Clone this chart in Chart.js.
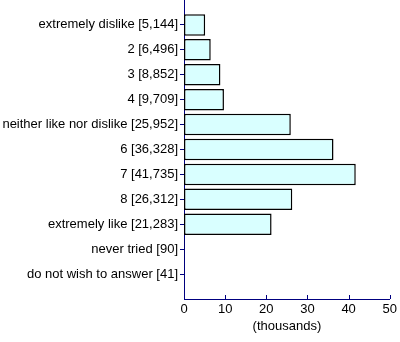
<!DOCTYPE html>
<html>
<head>
<meta charset="utf-8">
<script src="https://cdn.jsdelivr.net/npm/chart.js@4"></script>
<style>
  html, body { margin: 0; padding: 0; background: #fff; }
  #wrap { width: 400px; height: 342px; }
</style>
</head>
<body>
<div id="wrap"><canvas id="barchart"></canvas></div>
<script>
const categories = ['extremely dislike', '2', '3', '4', 'neither like nor dislike', '6', '7', '8', 'extremely like', 'never tried', 'do not wish to answer'];
const counts = [5144, 6496, 8852, 9709, 25952, 36328, 41735, 26312, 21283, 90, 41];
const xTicks = [0, 10, 20, 30, 40, 50];

const axisBlue = '#000080';

// blank slot above and below so the axis runs past the first and last bar
const labels = [''].concat(categories.map(function(c, i) {
    return c + ' [' + counts[i].toLocaleString('en-US') + ']';
}), ['']);
const values = [null].concat(counts.map(function(v) { return v / 1000; }), [null]);

const innerTicks = {
    id: 'innerTicks',
    afterDraw: function(chart) {
        const ctx = chart.ctx;
        const xs = chart.scales.x;
        const bottom = chart.chartArea.bottom;
        ctx.save();
        ctx.strokeStyle = axisBlue;
        ctx.lineWidth = 1;
        xTicks.forEach(function(t) {
            const px = Math.round(xs.getPixelForValue(t)) + 0.5;
            ctx.beginPath();
            ctx.moveTo(px, bottom);
            ctx.lineTo(px, bottom - 4);
            ctx.stroke();
        });
        ctx.restore();
    }
};

document.addEventListener("DOMContentLoaded", function() {
    const ctx = document.getElementById('barchart');
    Chart.defaults.font.family = '"Liberation Sans", Arial, sans-serif';
    Chart.defaults.font.size = 13;
    Chart.defaults.color = '#000';

    new Chart(ctx, {
        type: 'bar',
        data: {
            labels: labels,
            datasets: [{
                data: values,
                backgroundColor: '#d9ffff',
                borderColor: '#000',
                borderWidth: 1.5,
                borderSkipped: false,
                barPercentage: 0.86,
                categoryPercentage: 1
            }]
        },
        options: {
            indexAxis: 'y',
            responsive: true,
            maintainAspectRatio: false,
            animation: false,
            layout: { padding: { top: 0, right: 7, left: 0, bottom: 0 } },
            plugins: {
                legend: { display: false },
                tooltip: { enabled: false }
            },
            scales: {
                x: {
                    min: 0,
                    max: 50,
                    afterBuildTicks: function(scale) {
                        scale.ticks = xTicks.map(function(v) { return { value: v }; });
                    },
                    grid: { display: false, drawTicks: false },
                    border: { display: true, color: axisBlue, width: 1 },
                    ticks: { padding: 3, maxRotation: 0 },
                    title: { display: true, text: '(thousands)', padding: { top: 1, bottom: 8 } },
                    afterFit: function(scale) { scale.height = 43; }
                },
                y: {
                    offset: false,
                    grid: {
                        offset: false,
                        drawOnChartArea: false,
                        tickLength: 4,
                        tickColor: function(c) {
                            return (c.index === 0 || c.index === labels.length - 1) ? 'rgba(0,0,0,0)' : axisBlue;
                        }
                    },
                    border: { display: true, color: axisBlue, width: 1 },
                    ticks: { padding: 2, autoSkip: false },
                    afterFit: function(scale) {
                        scale.width = 184;
                        scale.paddingTop = 0;
                        scale.paddingBottom = 0;
                    }
                }
            }
        },
        plugins: [innerTicks]
    });
});
</script>
</body>
</html>
